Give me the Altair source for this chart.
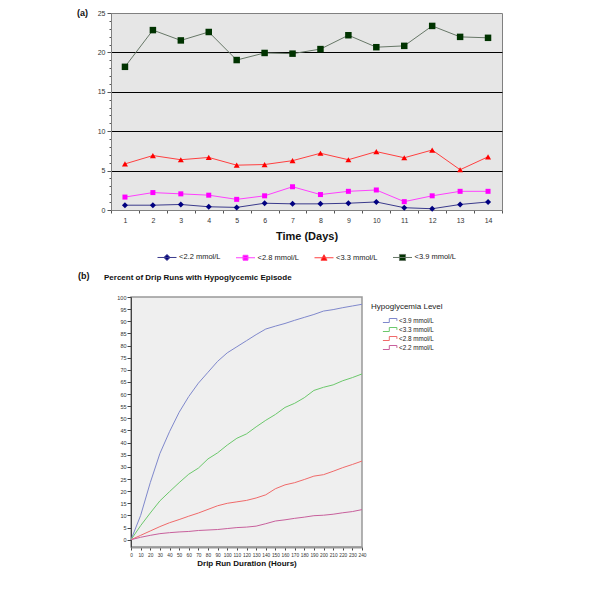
import altair as alt
import pandas as pd

FONT = "Liberation Sans"

# ---------------- panel (a): daily percentages ----------------
days = list(range(1, 15))
a_series = ["<2.2 mmol/L", "<2.8 mmol/L", "<3.3 mmol/L", "<3.9 mmol/L"]
a_22 = [0.61, 0.61, 0.70, 0.41, 0.33, 0.86, 0.78, 0.78, 0.86, 1.02, 0.29, 0.16, 0.70, 1.02]
a_28 = [1.64, 2.21, 2.05, 1.88, 1.35, 1.80, 2.95, 1.96, 2.37, 2.54, 1.06, 1.80, 2.37, 2.37]
a_33 = [5.85, 6.91, 6.38, 6.67, 5.69, 5.77, 6.26, 7.20, 6.38, 7.41, 6.63, 7.61, 5.11, 6.75]
a_39 = [18.17, 22.83, 21.52, 22.59, 19.03, 19.93, 19.84, 20.42, 22.18, 20.66, 20.83, 23.36, 21.97, 21.85]

# ---------------- panel (b): cumulative curves ----------------
hours = list(range(0, 241, 10))
b_series = ["<3.9 mmol/L", "<3.3 mmol/L", "<2.8 mmol/L", "<2.2 mmol/L"]
b_39 = [0, 10, 23.5, 35.5, 44.5, 52.5, 59, 64.5, 69, 73.5, 77, 79.5, 82, 84.5, 86.8,
        88, 89.1, 90.4, 91.6, 92.8, 94.2, 94.8, 95.6, 96.3, 97]
b_33 = [0, 5.8, 11, 16, 19.8, 23.5, 27, 29.5, 33.3, 35.8, 39, 41.8, 43.6, 46.5, 49.2,
        51.6, 54.5, 56.2, 58.5, 61.5, 62.8, 63.8, 65.5, 66.8, 68.3]
b_28 = [0, 1.8, 3.6, 5.4, 7, 8.3, 9.7, 11, 12.5, 14, 15, 15.6, 16.2, 17.2, 18.5,
        21, 22.6, 23.5, 24.8, 26.2, 26.8, 28.2, 29.7, 31, 32.4]
b_22 = [0, 1, 1.8, 2.5, 2.9, 3.2, 3.4, 3.8, 4, 4.2, 4.6, 5, 5.2, 5.6, 6.6,
        7.7, 8.2, 8.8, 9.3, 9.9, 10.1, 10.5, 11.1, 11.6, 12.4]

# ---------------- styles ----------------
a_line_colors = ["#3a3a8c", "#ff40ff", "#ff4040", "#667766"]
a_marker_colors = ["#000080", "#ff00ff", "#ff0000", "#003300"]
a_shapes = ["diamond", "square", "triangle-up", "square"]
a_sizes = [36, 25, 36, 42]
a_legend_paths = [
    "M-1,0H1M0,-0.32L0.32,0L0,0.32L-0.32,0Z",
    "M-1,0H1M-0.26,-0.26H0.26V0.26H-0.26Z",
    "M-1,0H1M0,-0.32L0.32,0.26L-0.32,0.26Z",
    "M-1,0H1M-0.32,-0.32H0.32V0.32H-0.32Z",
]
b_colors = ["#7f88cc", "#6cc86c", "#f06a6a", "#c8609c"]

# ---------------- panel (a) chart ----------------
rows = []
for s, vals in zip(a_series, [a_22, a_28, a_33, a_39]):
    for d, v in zip(days, vals):
        rows.append({"day": d, "series": s, "value": v})
dfa = pd.DataFrame(rows)

xa = alt.X(
    "day:O",
    bandPosition=0.5,
    scale=alt.Scale(type="band", paddingInner=0, paddingOuter=0),
    axis=alt.Axis(
        title="Time (Days)", labelAngle=0, tickBand="extent",
        labelFont=FONT, labelFontSize=7, labelColor="#333", labelPadding=3,
        tickColor="#555", tickSize=3, domainColor="#808080",
        titleFont=FONT, titleFontSize=11, titleFontWeight="bold", titleColor="#111",
        titlePadding=7,
    ),
)
ya = alt.Y(
    "value:Q",
    scale=alt.Scale(domain=[0, 25], nice=False),
    axis=alt.Axis(
        title=None, values=list(range(26)),
        labelExpr="datum.value % 5 === 0 ? datum.label : ''",
        labelFlush=False,
        labelFont=FONT, labelFontSize=7, labelColor="#333", labelPadding=2,
        tickColor="#555",
        tickSize={"condition": {"test": "datum.value % 5 === 0", "value": 4}, "value": 2},
        grid=True, gridColor="#000000", gridWidth=1,
        gridOpacity={"condition": {"test": "datum.value % 5 === 0 && datum.value > 0 && datum.value < 25", "value": 1}, "value": 0},
        domainColor="#808080",
    ),
)

line_a = alt.Chart(dfa).mark_line(strokeWidth=1).encode(
    x=xa, y=ya,
    color=alt.Color("series:N", scale=alt.Scale(domain=a_series, range=a_line_colors), legend=None),
)

point_layers = []
for s, shp, col, sz in zip(a_series, a_shapes, a_marker_colors, a_sizes):
    point_layers.append(
        alt.Chart(dfa).transform_filter(alt.datum.series == s)
        .mark_point(shape=shp, filled=True, color=col, size=sz, opacity=1)
        .encode(x=xa, y=ya)
    )

legend_a = alt.Legend(
    title=None, orient="none", legendX=46, legendY=234, direction="horizontal",
    symbolSize=361, symbolStrokeWidth=1, symbolFillColor="#000", symbolStrokeColor="#000",
    symbolOpacity=1, labelFont=FONT, labelFontSize=7.5, labelColor="#222",
    labelOffset=2, columnPadding=12.5, padding=0,
)
legend_layer_a = alt.Chart(dfa).mark_point(opacity=0).encode(
    x=xa, y=ya,
    fill=alt.Fill("series:N", scale=alt.Scale(domain=a_series, range=a_marker_colors), legend=legend_a),
    stroke=alt.Stroke("series:N", scale=alt.Scale(domain=a_series, range=a_line_colors), legend=legend_a),
    shape=alt.Shape("series:N", scale=alt.Scale(domain=a_series, range=a_legend_paths), legend=legend_a),
)

label_a = alt.Chart(pd.DataFrame({"t": ["(a)"]})).mark_text(
    align="left", baseline="top", font=FONT, fontSize=9, fontWeight="bold", color="#111"
).encode(x=alt.value(-34), y=alt.value(-4), text="t:N")

chart_a = alt.layer(line_a, *point_layers, legend_layer_a, label_a).properties(
    width=391, height=197,
    view=alt.ViewBackground(fill="#e6e6e6", stroke="#808080", strokeWidth=1),
)

# ---------------- panel (b) chart ----------------
rows_b = []
for s, vals in zip(b_series, [b_39, b_33, b_28, b_22]):
    for h, v in zip(hours, vals):
        rows_b.append({"hour": h, "series": s, "pct": v})
dfb = pd.DataFrame(rows_b)

legend_b = alt.Legend(
    title="Hypoglycemia Level", orient="none", legendX=260, legendY=6,
    titleFont=FONT, titleFontSize=8, titleFontWeight="normal", titleColor="#222", titlePadding=5,
    labelFont=FONT, labelFontSize=6.3, labelColor="#222", labelOffset=4,
    symbolType="M-1.9,0.5H-0.3V-0.5H1.6V0.1", symbolSize=64, symbolStrokeWidth=1,
    symbolFillColor="transparent", symbolOffset=15, rowPadding=0, padding=0,
)

line_b = alt.Chart(dfb).mark_line(strokeWidth=1).encode(
    x=alt.X("hour:Q", scale=alt.Scale(domain=[0, 240], nice=False),
            axis=alt.Axis(values=hours, title="Drip Run Duration (Hours)", grid=False,
                          labelOverlap=False, labelFlush=False,
                          labelFont=FONT, labelFontSize=4.8, labelColor="#333", labelPadding=2,
                          tickColor="#444", tickSize=3, domainColor="#999999", domainWidth=2,
                          titleFont=FONT, titleFontSize=8, titleFontWeight="bold", titleColor="#111",
                          titlePadding=3)),
    y=alt.Y("pct:Q", scale=alt.Scale(domain=[-3, 100], nice=False),
            axis=alt.Axis(values=list(range(0, 101, 5)), title=None, grid=False,
                          labelOverlap=False, labelFlush=False,
                          labelFont=FONT, labelFontSize=5.5, labelColor="#333", labelPadding=1,
                          tickColor="#444", tickSize=4, domainColor="#444")),
    color=alt.Color("series:N", scale=alt.Scale(domain=b_series, range=b_colors), legend=legend_b),
)

label_b = alt.Chart(pd.DataFrame({"t": ["(b)"]})).mark_text(
    align="left", baseline="middle", font=FONT, fontSize=9, fontWeight="bold", color="#111"
).encode(x=alt.value(-53), y=alt.value(-21), text="t:N")

title_b = alt.Chart(pd.DataFrame({"t": ["Percent of Drip Runs with Hypoglycemic Episode"]})).mark_text(
    align="left", baseline="middle", font=FONT, fontSize=8, fontWeight="bold", color="#111"
).encode(x=alt.value(-27), y=alt.value(-19), text="t:N")

chart_b = alt.layer(line_b, label_b, title_b).properties(
    width=231, height=250,
    view=alt.ViewBackground(fill="#efefef", stroke="#999999", strokeWidth=1.5),
)

# empty spacer that shifts panel (b) to the right of panel (a)'s axis
spacer = alt.Chart(pd.DataFrame({"s": [0]})).mark_point(opacity=0).properties(
    width=20, height=250,
    view=alt.ViewBackground(fill="transparent", stroke="transparent"),
)

bottom = alt.hconcat(spacer, chart_b, spacing=0, bounds="flush")

chart = alt.vconcat(chart_a, bottom, spacing=29).resolve_scale(
    color="independent"
).properties(
    padding={"left": 68, "top": 0, "right": 5, "bottom": 5}
).configure(font=FONT)

chart.save("out.html", embed_options={"renderer": "svg", "actions": False})
